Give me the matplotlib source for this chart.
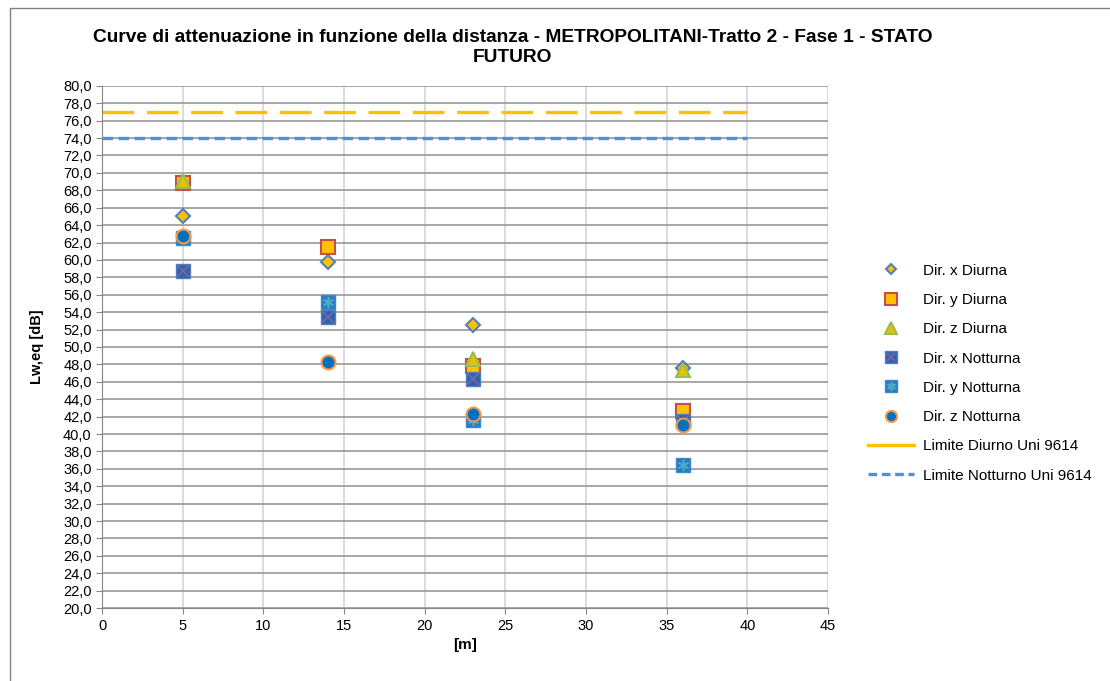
import matplotlib
matplotlib.use("Agg")
import matplotlib.pyplot as plt
from matplotlib.lines import Line2D
from matplotlib.patches import Rectangle
from matplotlib.ticker import FuncFormatter, MultipleLocator

plt.rcParams['font.family'] = ['Liberation Sans', 'DejaVu Sans']

# distanze [m]
dist = [5, 14, 23, 36]

x_diurna = [65.0, 59.8, 52.5, 47.6]
y_diurna = [68.8, 61.5, 47.8, 42.7]
z_diurna = [69.1, 54.8, 48.6, 47.4]
x_notturna = [58.7, 53.5, 46.3, 41.5]
y_notturna = [62.5, 55.2, 41.6, 36.4]
z_notturna = [62.8, 48.3, 42.3, 41.0]

lim_x = [0, 40]
lim_diurno = [77.0, 77.0]
lim_notturno = [74.0, 74.0]

title = ("Curve di attenuazione in funzione della distanza - METROPOLITANI-Tratto 2 - Fase 1 - STATO\n"
         "FUTURO")

fig = plt.figure(figsize=(11.1, 6.81), dpi=100)
ax = fig.add_axes([0.092, 0.107, 0.654, 0.767])

# linee limite
l1, = ax.plot(lim_x, lim_diurno, color='#FFC000', lw=2.4)
l1.set_dashes([9.5, 3.8])
l2, = ax.plot(lim_x, lim_notturno, color='#558ED5', lw=2.4)
l2.set_dashes([3.2, 1.6])

ms = 10
h1, = ax.plot(dist, x_diurna, ls='none', marker='D', ms=7, mfc='#FFC000', mec='#4F81BD', mew=1.5)
h2, = ax.plot(dist, y_diurna, ls='none', marker='s', ms=ms, mfc='#FFC000', mec='#C0504D', mew=1.5)
h3, = ax.plot(dist, z_diurna, ls='none', marker='^', ms=ms, mfc='#E3C300', mec='#9BBB59', mew=1.5)
h4a, = ax.plot(dist, x_notturna, ls='none', marker='s', ms=ms, mfc='#2E62B0', mec='#4F81BD', mew=1)
h4b, = ax.plot(dist, x_notturna, ls='none', marker='x', ms=ms - 2, mec='#8064A2', mew=1.2)
h5a, = ax.plot(dist, y_notturna, ls='none', marker='s', ms=ms, mfc='#2C7BC0', mec='#3A8AD0', mew=1)
h5b, = ax.plot(dist, y_notturna, ls='none', marker=(6, 2, 0), ms=ms - 2, mec='#4BACC6', mew=1.2)
h6, = ax.plot(dist, z_notturna, ls='none', marker='o', ms=ms, mfc='#0070C0', mec='#F79646', mew=1.5)

ax.set_xlim(0, 45)
ax.set_ylim(20, 80)
ax.xaxis.set_major_locator(MultipleLocator(5))
ax.yaxis.set_major_locator(MultipleLocator(2))
ax.yaxis.set_major_formatter(FuncFormatter(lambda v, p: f"{v:.1f}".replace('.', ',')))
ax.tick_params(labelsize=10.5, length=4, color='#868686')

ax.yaxis.grid(True, color='#A0A0A0', lw=1.3)
ax.xaxis.grid(True, color='#D9D9D9', lw=1.3)
ax.set_axisbelow(True)
for s in ['top', 'right']:
    ax.spines[s].set_visible(False)
ax.spines['left'].set_color('#868686')
ax.spines['bottom'].set_color('#868686')

ax.set_xlabel('[m]', fontsize=11, fontweight='bold')
ax.set_ylabel('Lw,eq [dB]', fontsize=10.5, fontweight='bold', labelpad=14)

fig.text(0.462, 0.93, title, ha='center', va='center', fontsize=13.8, fontweight='bold',
         linespacing=1.2)

# legenda: linea diurna mostrata continua come nell'originale
leg_diurno = Line2D([], [], color='#FFC000', lw=2.4)
leg_notturno = Line2D([], [], color='#558ED5', lw=2.4, dashes=[2.6, 1.4])
handles = [h1, h2, h3, (h4a, h4b), (h5a, h5b), h6, leg_diurno, leg_notturno]
labels = ['Dir. x Diurna', 'Dir. y Diurna', 'Dir. z Diurna', 'Dir. x Notturna',
          'Dir. y Notturna', 'Dir. z Notturna', 'Limite Diurno Uni 9614',
          'Limite Notturno Uni 9614']
fig.legend(handles, labels, loc='center left', bbox_to_anchor=(0.77, 0.452),
           frameon=False, fontsize=11, labelspacing=1.0, handlelength=3.0,
           handletextpad=0.6, markerscale=0.8)

fig.patches.append(Rectangle((0.009, -0.01), 1.2, 0.998, transform=fig.transFigure,
                             fill=False, edgecolor='#808080', lw=1))

fig.savefig('out.png', dpi=100)
